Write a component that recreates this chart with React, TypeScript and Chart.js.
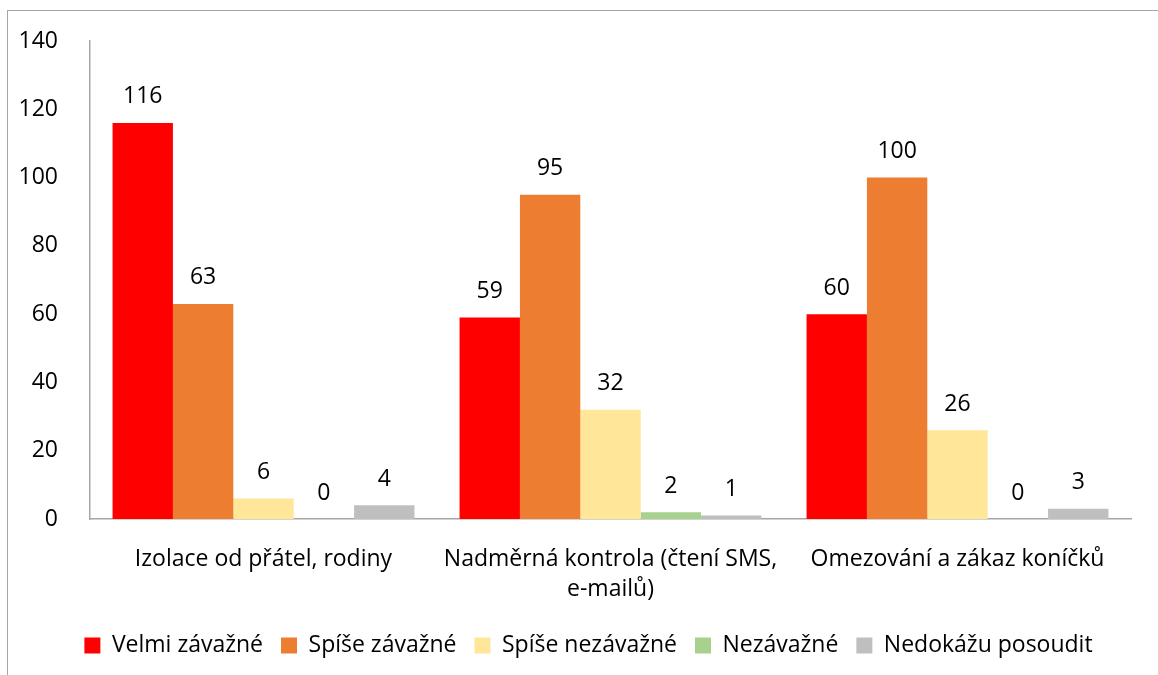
import React, { useEffect, useRef } from "react";
import { Chart, registerables } from "chart.js";

Chart.register(...registerables);

const categories: (string | string[])[] = [
  "Izolace od přátel, rodiny",
  ["Nadměrná kontrola (čtení SMS,", "e-mailů)"],
  "Omezování a zákaz koníčků",
];
const seriesNames = ["Velmi závažné", "Spíše závažné", "Spíše nezávažné", "Nezávažné", "Nedokážu posoudit"];
const velmiZavazne = [116, 59, 60];
const spiseZavazne = [63, 95, 100];
const spiseNezavazne = [6, 32, 26];
const nezavazne = [0, 2, 0];
const nedokazu = [4, 1, 3];
const colors = ["#FF0000", "#ED7D31", "#FFE699", "#A9D18E", "#BFBFBF"];
const yTicks = [0, 20, 40, 60, 80, 100, 120, 140];

const FONT = "'Open Sans', Lato, sans-serif";
const FS = 23;

const valueLabels = {
  id: "valueLabels",
  afterDatasetsDraw(chart: any) {
    const ctx = chart.ctx;
    ctx.save();
    ctx.font = `${FS}px ${FONT}`;
    ctx.fillStyle = "#000";
    ctx.textAlign = "center";
    ctx.textBaseline = "middle";
    chart.data.datasets.forEach((ds: any, i: number) => {
      const meta = chart.getDatasetMeta(i);
      meta.data.forEach((el: any, j: number) => {
        ctx.fillText(String(ds.data[j]), el.x, el.y - 26);
      });
    });
    ctx.restore();
  },
};

const legendShift = {
  id: "legendShift",
  afterLayout(chart: any) {
    if (chart.legend) {
      chart.legend.left += 23;
      chart.legend.right += 23;
    }
  },
};

export default function App() {
  const ref = useRef<HTMLCanvasElement>(null);
  useEffect(() => {
    if (!ref.current) return;
    const series = [velmiZavazne, spiseZavazne, spiseNezavazne, nezavazne, nedokazu];
    const chart = new Chart(ref.current, {
      type: "bar",
      data: {
        labels: categories,
        datasets: series.map((d, i) => ({
          label: seriesNames[i],
          data: d,
          backgroundColor: colors[i],
          borderWidth: 0,
          barPercentage: 1,
          categoryPercentage: 0.87,
        })),
      },
      options: {
        animation: false,
        responsive: false,
        maintainAspectRatio: false,
        layout: { padding: { left: 0, right: 27, top: 41, bottom: 8 } },
        plugins: {
          legend: {
            position: "bottom",
            labels: {
              font: { size: FS, family: FONT },
              color: "#000",
              boxWidth: 16,
              boxHeight: 16,
              padding: 18,
            },
          },
          tooltip: { enabled: false },
        },
        scales: {
          x: {
            grid: { display: false },
            border: { display: true, color: "#A6A6A6", width: 1.5 },
            ticks: { font: { size: FS, family: FONT, lineHeight: 1.3 }, color: "#000", padding: 18, maxRotation: 0 },
            afterFit(scale: any) {
              scale.height = 97;
            },
          },
          y: {
            min: 0,
            max: 140,
            grid: { display: false },
            border: { display: true, color: "#A6A6A6", width: 1.5 },
            afterBuildTicks(scale: any) {
              scale.ticks = yTicks.map((v) => ({ value: v }));
            },
            ticks: { font: { size: FS, family: FONT }, color: "#000", padding: 24 },
            afterFit(scale: any) {
              scale.width = 90;
            },
          },
        },
      },
      plugins: [valueLabels, legendShift],
    });
    return () => chart.destroy();
  }, []);
  return (
    <div style={{ position: "fixed", left: 0, top: 0, width: 1158, height: 675, overflow: "hidden", background: "#fff" }}>
      <div style={{ position: "absolute", left: 7, top: 10, width: 1300, height: 800, border: "1.5px solid #A6A6A6" }} />
      <canvas ref={ref} width={1158} height={675} style={{ position: "absolute", left: 0, top: 0 }} />
    </div>
  );
}
